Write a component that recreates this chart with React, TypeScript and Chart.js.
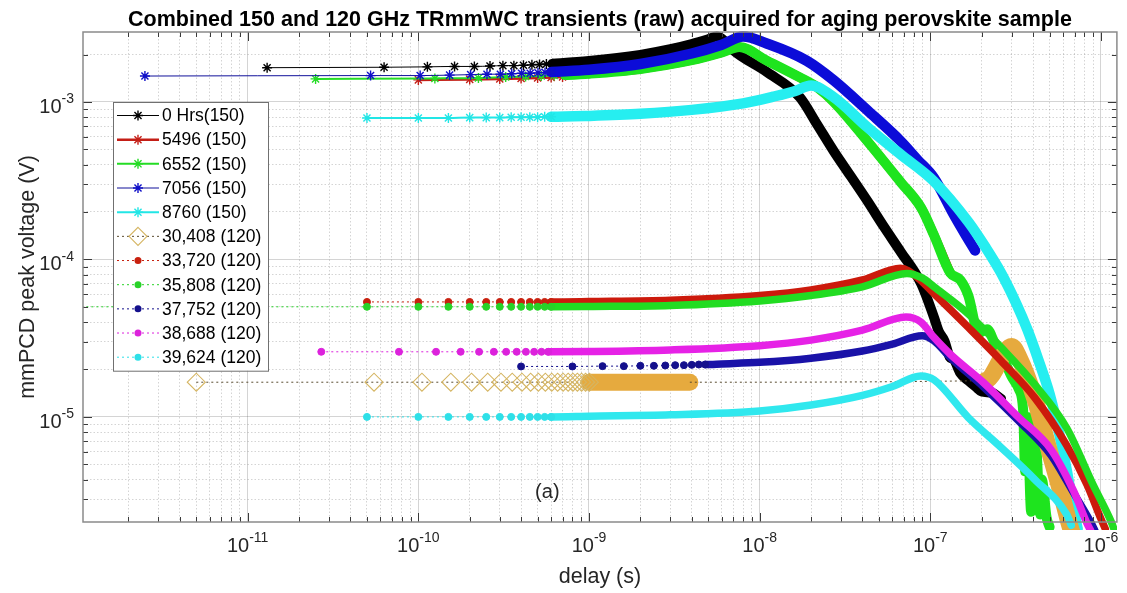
import React, { useEffect, useRef } from 'react';
import { Chart, registerables } from 'chart.js';

Chart.register(...registerables);

const FONT = '"Liberation Sans", Arial, Helvetica, sans-serif';

// ---------- text ----------
const TITLE = 'Combined 150 and 120 GHz TRmmWC transients (raw) acquired for aging perovskite sample';
const X_TITLE = 'delay (s)';
const Y_TITLE = 'mmPCD peak voltage (V)';
const PANEL_TAG = '(a)';
const PANEL_TAG_AT = [5.7e-10, 3.3e-6];
const LABELS = [
  '0 Hrs(150)', '5496 (150)', '6552 (150)', '7056 (150)', '8760 (150)',
  '30,408 (120)', '33,720 (120)', '35,808 (120)', '37,752 (120)', '38,688 (120)', '39,624 (120)',
];

// ---------- axes ----------
const X_MIN = 1.084e-12;
const X_MAX = 1.24e-6;
const Y_MIN = 2.15e-6;
const Y_MAX = 2.78e-3;
const X_TICK_EXP = [-11, -10, -9, -8, -7, -6];
const Y_TICK_EXP = [-5, -4, -3];

// ---------- data (delay in s, peak voltage in V) ----------
// 0 Hrs (150)
const T_0HRS = [1.3e-11, 6.3e-11, 1.13e-10, 1.63e-10, 2.13e-10, 2.63e-10, 3.13e-10, 3.63e-10, 4.13e-10, 4.63e-10, 5.13e-10, 5.63e-10, 6.13e-10,
  1e-9, 2e-9, 3e-9, 4e-9, 5e-9, 5.6e-9, 6.2e-9, 7.0e-9,
  1.1e-8, 1.72e-8, 2.17e-8, 2.72e-8, 3.42e-8, 4.3e-8, 5.35e-8, 6.7e-8, 8.85e-8,
  1.05e-7, 1.12e-7, 1.21e-7, 1.3e-7, 1.38e-7, 1.5e-7, 1.67e-7, 1.85e-7, 2.0e-7, 2.3e-7, 2.6e-7];
const V_0HRS = [1.65e-3, 1.66e-3, 1.67e-3, 1.68e-3, 1.68e-3, 1.69e-3, 1.70e-3, 1.70e-3, 1.71e-3, 1.72e-3, 1.73e-3, 1.74e-3, 1.75e-3,
  1.82e-3, 1.99e-3, 2.16e-3, 2.33e-3, 2.5e-3, 2.6e-3, 2.45e-3, 2.13e-3,
  1.55e-3, 1.07e-3, 7.2e-4, 4.86e-4, 3.37e-4, 2.33e-4, 1.61e-4, 1.12e-4, 7.0e-5,
  4.3e-5, 3.5e-5, 3.04e-5, 2.4e-5, 2.3e-5, 1.9e-5, 1.7e-5, 1.55e-5, 1.45e-5, 1.42e-5, 1.3e-5];

// 5496 (150)
const T_5496 = [1.0e-10, 2.0e-10, 3.0e-10, 4.0e-10, 5.0e-10, 6.0e-10, 7.0e-10,
  1e-9, 2e-9, 4e-9, 6e-9, 7.6e-9,
  1.1e-8, 1.72e-8, 2.17e-8, 2.72e-8, 4.3e-8, 6.7e-8, 8.85e-8, 1.05e-7, 1.31e-7];
const V_5496 = [1.38e-3, 1.39e-3, 1.40e-3, 1.41e-3, 1.42e-3, 1.43e-3, 1.44e-3,
  1.51e-3, 1.62e-3, 1.84e-3, 2.06e-3, 2.23e-3,
  1.83e-3, 1.43e-3, 1.24e-3, 1.0e-3, 5.6e-4, 3.1e-4, 2.12e-4, 1.43e-4, 8.2e-5];

// 6552 (150)
const T_6552 = [2.5e-11, 1.25e-10, 2.25e-10, 3.25e-10, 4.25e-10, 5.25e-10, 6.25e-10, 7.25e-10,
  1e-9, 2e-9, 4e-9, 6e-9, 7.6e-9,
  1.1e-8, 1.72e-8, 2.17e-8, 2.72e-8, 4.3e-8, 6.7e-8, 8.85e-8,
  1.05e-7, 1.31e-7, 1.5e-7, 1.67e-7, 1.92e-7, 2.15e-7, 2.4e-7, 2.7e-7, 3.0e-7, 3.3e-7,
  3.5e-7, 3.6e-7, 3.7e-7, 3.9e-7, 4.0e-7, 4.2e-7, 4.4e-7, 4.5e-7, 4.8e-7, 5.0e-7];
const V_6552 = [1.40e-3, 1.41e-3, 1.42e-3, 1.44e-3, 1.45e-3, 1.46e-3, 1.47e-3, 1.48e-3,
  1.51e-3, 1.62e-3, 1.84e-3, 2.06e-3, 2.23e-3,
  1.83e-3, 1.43e-3, 1.24e-3, 1.0e-3, 5.6e-4, 3.1e-4, 2.12e-4,
  1.43e-4, 8.2e-5, 7.4e-5, 5.9e-5, 3.4e-5, 3.6e-5, 2.9e-5, 2.3e-5, 1.8e-5, 1.5e-5,
  1.1e-5, 4.5e-6, 1.0e-5, 2.5e-6, 9e-6, 6e-6, 2.4e-6, 4e-6, 2.3e-6, 2.0e-6];

// 7056 (150)
const T_7056 = [2.5e-12, 5.25e-11, 1.025e-10, 1.525e-10, 2.025e-10, 2.525e-10, 3.025e-10, 3.525e-10, 4.025e-10, 4.525e-10, 5.025e-10, 5.525e-10, 6.025e-10,
  1e-9, 2e-9, 4e-9, 6e-9, 8e-9,
  1.1e-8, 1.88e-8, 2.72e-8, 4.3e-8, 6.7e-8, 8.4e-8,
  1.05e-7, 1.38e-7, 1.6e-7, 1.83e-7];
const V_7056 = [1.46e-3, 1.47e-3, 1.47e-3, 1.48e-3, 1.49e-3, 1.50e-3, 1.50e-3, 1.51e-3, 1.52e-3, 1.52e-3, 1.53e-3, 1.54e-3, 1.55e-3,
  1.60e-3, 1.74e-3, 2.03e-3, 2.31e-3, 2.6e-3,
  2.35e-3, 1.83e-3, 1.37e-3, 8.8e-4, 5.64e-4, 4.3e-4,
  3.29e-4, 1.91e-4, 1.45e-4, 1.14e-4];

// 8760 (150)
const T_8760 = [5e-11, 1e-10, 1.5e-10, 2e-10, 2.5e-10, 3e-10, 3.5e-10, 4e-10, 4.5e-10, 5e-10, 5.5e-10, 6e-10,
  1e-9, 2e-9, 4e-9, 8e-9, 1.2e-8, 1.6e-8, 2e-8,
  2.72e-8, 4.3e-8, 6.7e-8, 1.05e-7, 1.67e-7,
  2.1e-7, 2.6e-7, 3.2e-7, 3.7e-7, 4.3e-7, 5.0e-7, 5.6e-7, 6.3e-7, 6.9e-7, 7.3e-7];
const V_8760 = [7.9e-4, 7.9e-4, 7.9e-4, 7.95e-4, 7.95e-4, 7.95e-4, 8.0e-4, 8.0e-4, 8.0e-4, 8.0e-4, 8.05e-4, 8.05e-4,
  8.15e-4, 8.4e-4, 8.9e-4, 9.8e-4, 1.08e-3, 1.17e-3, 1.27e-3,
  1.07e-3, 6.87e-4, 4.64e-4, 3.13e-4, 1.73e-4,
  1.2e-4, 8.2e-5, 5.2e-5, 3.6e-5, 2.3e-5, 1.4e-5, 8.5e-6, 4.6e-6, 2.6e-6, 1.95e-6];

// 30,408 (120)
const T_30408 = [5e-12, 5.5e-11, 1.05e-10, 1.55e-10, 2.05e-10, 2.55e-10, 3.05e-10, 3.55e-10, 4.05e-10, 4.55e-10, 5.05e-10,
  5.55e-10, 6.05e-10, 6.55e-10, 7.05e-10, 7.55e-10, 8.05e-10, 8.55e-10, 9.05e-10, 9.55e-10, 1.005e-9,
  2e-9, 3.9e-9,
  2.1e-7, 3.0e-7, 3.3e-7, 4.1e-7, 4.9e-7, 5.8e-7, 6.7e-7, 7.0e-7];
const V_30408 = [1.66e-5, 1.66e-5, 1.66e-5, 1.66e-5, 1.66e-5, 1.66e-5, 1.66e-5, 1.66e-5, 1.66e-5, 1.66e-5, 1.66e-5,
  1.66e-5, 1.66e-5, 1.66e-5, 1.66e-5, 1.66e-5, 1.66e-5, 1.66e-5, 1.66e-5, 1.66e-5, 1.66e-5,
  1.66e-5, 1.66e-5,
  1.7e-5, 2.8e-5, 2.4e-5, 1.3e-5, 6.5e-6, 3.4e-6, 1.9e-6, 1.7e-6];

// 33,720 (120)
const T_33720 = [5e-11, 1e-10, 1.5e-10, 2e-10, 2.5e-10, 3e-10, 3.5e-10, 4e-10, 4.5e-10, 5e-10, 5.5e-10, 6e-10,
  1e-9, 3e-9, 1e-8, 2e-8, 4e-8, 6.7e-8,
  8.5e-8, 1.05e-7, 1.67e-7, 2.6e-7, 4.1e-7, 6.3e-7, 8.3e-7, 1.0e-6, 1.06e-6];
const V_33720 = [5.37e-5, 5.37e-5, 5.37e-5, 5.37e-5, 5.37e-5, 5.37e-5, 5.37e-5, 5.37e-5, 5.37e-5, 5.37e-5, 5.37e-5, 5.37e-5,
  5.4e-5, 5.5e-5, 5.9e-5, 6.4e-5, 7.4e-5, 8.8e-5,
  7.6e-5, 6.07e-5, 3.7e-5, 2.27e-5, 1.32e-5, 6.6e-6, 3.7e-6, 2.25e-6, 1.95e-6];

// 35,808 (120)
const T_35808 = [1e-13, 5e-11, 1e-10, 1.5e-10, 2e-10, 2.5e-10, 3e-10, 3.5e-10, 4e-10, 4.5e-10, 5e-10, 5.5e-10, 6e-10,
  1e-9, 3e-9, 1e-8, 2e-8, 4e-8, 7.3e-8,
  9e-8, 1.05e-7, 1.67e-7, 2.6e-7, 4.1e-7, 6.3e-7, 9.0e-7, 1.15e-6, 1.2e-6];
const V_35808 = [5.0e-5, 5.0e-5, 5.0e-5, 5.0e-5, 5.0e-5, 5.0e-5, 5.0e-5, 5.0e-5, 5.0e-5, 5.0e-5, 5.0e-5, 5.0e-5, 5.0e-5,
  5.02e-5, 5.1e-5, 5.45e-5, 5.9e-5, 6.7e-5, 8.15e-5,
  7.6e-5, 6.7e-5, 4.5e-5, 2.76e-5, 1.6e-5, 8.5e-6, 3.7e-6, 2.15e-6, 1.9e-6];

// 37,752 (120)
const T_37752 = [4e-10, 8e-10, 1.2e-9, 1.6e-9, 2.0e-9, 2.4e-9, 2.8e-9, 3.2e-9, 3.6e-9, 4.0e-9, 4.4e-9, 4.8e-9,
  6e-9, 1e-8, 2e-8, 4e-8, 6e-8, 8.95e-8,
  1.05e-7, 1.31e-7, 2.05e-7, 3.27e-7, 5.1e-7, 6.9e-7, 8.8e-7, 9.2e-7];
const V_37752 = [2.09e-5, 2.09e-5, 2.10e-5, 2.10e-5, 2.11e-5, 2.11e-5, 2.12e-5, 2.13e-5, 2.13e-5, 2.14e-5, 2.15e-5, 2.15e-5,
  2.17e-5, 2.22e-5, 2.36e-5, 2.62e-5, 2.9e-5, 3.28e-5,
  3.05e-5, 2.38e-5, 1.55e-5, 9.5e-6, 5.7e-6, 3.3e-6, 2.1e-6, 1.9e-6];

// 38,688 (120)
const T_38688 = [2.7e-11, 7.7e-11, 1.27e-10, 1.77e-10, 2.27e-10, 2.77e-10, 3.27e-10, 3.77e-10, 4.27e-10, 4.77e-10, 5.27e-10, 5.77e-10,
  1e-9, 3e-9, 1e-8, 2e-8, 4e-8, 7.2e-8,
  8.8e-8, 1.05e-7, 1.31e-7, 2.05e-7, 3.27e-7, 5.1e-7, 6.9e-7, 8.3e-7, 8.7e-7];
const V_38688 = [2.59e-5, 2.59e-5, 2.59e-5, 2.59e-5, 2.59e-5, 2.59e-5, 2.59e-5, 2.59e-5, 2.59e-5, 2.59e-5, 2.59e-5, 2.59e-5,
  2.6e-5, 2.66e-5, 2.83e-5, 3.07e-5, 3.55e-5, 4.3e-5,
  4.0e-5, 3.2e-5, 2.5e-5, 1.65e-5, 1.0e-5, 6.2e-6, 3.4e-6, 2.1e-6, 1.9e-6];

// 39,624 (120)
const T_39624 = [5e-11, 1e-10, 1.5e-10, 2e-10, 2.5e-10, 3e-10, 3.5e-10, 4e-10, 4.5e-10, 5e-10, 5.5e-10, 6e-10,
  1e-9, 3e-9, 1e-8, 2e-8, 4e-8, 6e-8, 8.8e-8,
  1.05e-7, 1.67e-7, 2.6e-7, 4.1e-7, 6.3e-7, 6.7e-7];
const V_39624 = [1.0e-5, 1.0e-5, 1.0e-5, 1.0e-5, 1.0e-5, 1.0e-5, 1.0e-5, 1.0e-5, 1.0e-5, 1.0e-5, 1.0e-5, 1.0e-5,
  1.01e-5, 1.03e-5, 1.09e-5, 1.19e-5, 1.37e-5, 1.56e-5, 1.82e-5,
  1.72e-5, 9.9e-6, 6.4e-6, 4.0e-6, 2.4e-6, 2.05e-6];

// ---------- styles ----------
type Marker = 'star' | 'circle' | 'rectRot';
interface Series {
  label: string; t: number[]; v: number[];
  lineColor: string; lineWidth: number; dash: number[];
  marker: Marker; r: number; markerColor: string; filled: boolean; markerLw: number;
  markUntil: number;
  bandColor: string; bandWidth: number; bands: number[][];
}

const SERIES: Series[] = [
  { label: LABELS[0], t: T_0HRS, v: V_0HRS, lineColor: '#000000', lineWidth: 1, dash: [], marker: 'star', r: 5, markerColor: '#000000', filled: false, markerLw: 1.4, markUntil: 6.13e-10, bandColor: '#000000', bandWidth: 10, bands: [[6.13e-10, 1]] },
  { label: LABELS[1], t: T_5496, v: V_5496, lineColor: '#c41e16', lineWidth: 2.5, dash: [], marker: 'star', r: 5, markerColor: '#c41e16', filled: false, markerLw: 1.4, markUntil: 7.0e-10, bandColor: '#c41e16', bandWidth: 9, bands: [[1e-9, 1]] },
  { label: LABELS[2], t: T_6552, v: V_6552, lineColor: '#24dc24', lineWidth: 2, dash: [], marker: 'star', r: 5, markerColor: '#24dc24', filled: false, markerLw: 1.4, markUntil: 7.25e-10, bandColor: '#1ee41e', bandWidth: 10, bands: [[7.25e-10, 1]] },
  { label: LABELS[3], t: T_7056, v: V_7056, lineColor: '#10109a', lineWidth: 1, dash: [], marker: 'star', r: 5, markerColor: '#1010c8', filled: false, markerLw: 1.4, markUntil: 6.025e-10, bandColor: '#0c0cd8', bandWidth: 10.5, bands: [[6.025e-10, 1]] },
  { label: LABELS[4], t: T_8760, v: V_8760, lineColor: '#22e6e6', lineWidth: 2, dash: [], marker: 'star', r: 5, markerColor: '#22e6e6', filled: false, markerLw: 1.4, markUntil: 6e-10, bandColor: '#26eef0', bandWidth: 10.5, bands: [[6e-10, 1]] },
  { label: LABELS[5], t: T_30408, v: V_30408, lineColor: '#5a4c30', lineWidth: 1, dash: [2, 3], marker: 'rectRot', r: 9, markerColor: '#d5b562', filled: false, markerLw: 1.1, markUntil: 1.005e-9, bandColor: '#e6aa3e', bandWidth: 17, bands: [[1.005e-9, 3.9e-9], [2.1e-7, 1]] },
  { label: LABELS[6], t: T_33720, v: V_33720, lineColor: '#c8200e', lineWidth: 1, dash: [2, 3], marker: 'circle', r: 3.5, markerColor: '#c8200e', filled: true, markerLw: 1, markUntil: 6e-10, bandColor: '#cc1a0c', bandWidth: 7.5, bands: [[6e-10, 1]] },
  { label: LABELS[7], t: T_35808, v: V_35808, lineColor: '#28d228', lineWidth: 1, dash: [2, 3], marker: 'circle', r: 3.5, markerColor: '#28d228', filled: true, markerLw: 1, markUntil: 6e-10, bandColor: '#22dc22', bandWidth: 7.5, bands: [[6e-10, 1]] },
  { label: LABELS[8], t: T_37752, v: V_37752, lineColor: '#14108c', lineWidth: 1, dash: [2, 3], marker: 'circle', r: 3.5, markerColor: '#14108c', filled: true, markerLw: 1, markUntil: 4.8e-9, bandColor: '#1a12a8', bandWidth: 7.5, bands: [[4.8e-9, 1]] },
  { label: LABELS[9], t: T_38688, v: V_38688, lineColor: '#dc22dc', lineWidth: 1, dash: [2, 3], marker: 'circle', r: 3.5, markerColor: '#dc22dc', filled: true, markerLw: 1, markUntil: 5.77e-10, bandColor: '#e622e6', bandWidth: 7.5, bands: [[5.77e-10, 1]] },
  { label: LABELS[10], t: T_39624, v: V_39624, lineColor: '#2ee0e8', lineWidth: 1, dash: [2, 3], marker: 'circle', r: 3.5, markerColor: '#2ee0e8', filled: true, markerLw: 1, markUntil: 6e-10, bandColor: '#30e8ee', bandWidth: 7.5, bands: [[6e-10, 1]] },
];

// ---------- helpers ----------
function isPow10(v: number) {
  const l = Math.log10(v);
  return Math.abs(l - Math.round(l)) < 1e-6;
}

function decadeTicks(min: number, max: number): number[] {
  const out: number[] = [];
  for (let e = Math.floor(Math.log10(min)); e <= Math.ceil(Math.log10(max)); e++) {
    for (let m = 1; m <= 9; m++) {
      const v = Number((m * Math.pow(10, e)).toPrecision(6));
      if (v >= min * 0.9999 && v <= max * 1.0001) out.push(v);
    }
  }
  return out;
}

const X_TICKS = decadeTicks(X_MIN, X_MAX);
const Y_TICKS = decadeTicks(Y_MIN, Y_MAX);

function drawMarker(ctx: CanvasRenderingContext2D, s: Series, x: number, y: number) {
  ctx.save();
  ctx.setLineDash([]);
  ctx.strokeStyle = s.markerColor;
  ctx.fillStyle = s.markerColor;
  ctx.lineWidth = s.markerLw;
  ctx.beginPath();
  if (s.marker === 'star') {
    for (let k = 0; k < 4; k++) {
      const a = (k * Math.PI) / 4;
      ctx.moveTo(x - s.r * Math.sin(a), y - s.r * Math.cos(a));
      ctx.lineTo(x + s.r * Math.sin(a), y + s.r * Math.cos(a));
    }
    ctx.stroke();
  } else if (s.marker === 'circle') {
    ctx.arc(x, y, s.r, 0, Math.PI * 2);
    ctx.fill();
  } else {
    ctx.moveTo(x, y - s.r);
    ctx.lineTo(x + s.r, y);
    ctx.lineTo(x, y + s.r);
    ctx.lineTo(x - s.r, y);
    ctx.closePath();
    if (s.filled) ctx.fill();
    ctx.stroke();
  }
  ctx.restore();
}

function drawPow(ctx: CanvasRenderingContext2D, e: number, x: number, y: number, anchor: 'center' | 'right', baseGap: number) {
  const base = '10';
  const ex = String(e);
  ctx.font = `20px ${FONT}`;
  const w1 = ctx.measureText(base).width;
  ctx.font = `14px ${FONT}`;
  const w2 = ctx.measureText(ex).width;
  const x0 = anchor === 'center' ? x - (w1 + w2) / 2 : x - (w1 + w2);
  ctx.font = `20px ${FONT}`;
  ctx.fillText(base, x0, y);
  ctx.font = `14px ${FONT}`;
  ctx.fillText(ex, x0 + w1, y - baseGap);
}

const axesPlugin = {
  id: 'matlabAxes',
  afterDraw(chart: any) {
    const { ctx, chartArea: a } = chart;
    const xs = chart.scales.x;
    const ys = chart.scales.y;
    ctx.save();
    ctx.setLineDash([]);
    // inward tick marks on all four sides
    ctx.strokeStyle = '#3a3a3a';
    ctx.lineWidth = 1;
    ctx.beginPath();
    for (const t of xs.ticks) {
      const px = Math.round(xs.getPixelForValue(t.value)) + 0.5;
      const len = isPow10(t.value) ? 9 : 5;
      ctx.moveTo(px, a.bottom); ctx.lineTo(px, a.bottom - len);
      ctx.moveTo(px, a.top); ctx.lineTo(px, a.top + len);
    }
    for (const t of ys.ticks) {
      const py = Math.round(ys.getPixelForValue(t.value)) + 0.5;
      const len = isPow10(t.value) ? 9 : 5;
      ctx.moveTo(a.left, py); ctx.lineTo(a.left + len, py);
      ctx.moveTo(a.right, py); ctx.lineTo(a.right - len, py);
    }
    ctx.stroke();
    // box
    ctx.strokeStyle = '#8a8a8a';
    ctx.lineWidth = 1.5;
    ctx.strokeRect(a.left, a.top, a.right - a.left, a.bottom - a.top);

    // tick labels
    ctx.fillStyle = '#262626';
    ctx.textAlign = 'left';
    ctx.textBaseline = 'alphabetic';
    for (const e of X_TICK_EXP) {
      const px = xs.getPixelForValue(Math.pow(10, e));
      drawPow(ctx, e, px, a.bottom + 30, 'center', 10);
    }
    for (const e of Y_TICK_EXP) {
      const py = ys.getPixelForValue(Math.pow(10, e));
      drawPow(ctx, e, a.left - 9, py + 11, 'right', 9.5);
    }

    // panel tag
    ctx.font = `20px ${FONT}`;
    ctx.textAlign = 'center';
    ctx.textBaseline = 'middle';
    ctx.fillStyle = '#262626';
    ctx.fillText(PANEL_TAG, xs.getPixelForValue(PANEL_TAG_AT[0]), ys.getPixelForValue(PANEL_TAG_AT[1]));

    // legend
    const lx0 = 113, ly0 = 102, lw = 155, rowH = 24.17;
    const lh = rowH * (SERIES.length - 1) + 27;
    ctx.fillStyle = '#ffffff';
    ctx.fillRect(lx0, ly0, lw, lh);
    ctx.strokeStyle = '#707070';
    ctx.lineWidth = 1;
    ctx.strokeRect(lx0 + 0.5, ly0 + 0.5, lw, lh);
    ctx.font = `17.5px ${FONT}`;
    ctx.textAlign = 'left';
    ctx.textBaseline = 'middle';
    SERIES.forEach((s, i) => {
      const y = ly0 + 13.5 + i * rowH;
      ctx.save();
      ctx.strokeStyle = s.lineColor;
      ctx.lineWidth = s.lineWidth;
      ctx.setLineDash(s.dash);
      ctx.beginPath();
      ctx.moveTo(lx0 + 4, y);
      ctx.lineTo(lx0 + 46, y);
      ctx.stroke();
      ctx.restore();
      drawMarker(ctx, s, lx0 + 25, y);
      ctx.fillStyle = '#000000';
      ctx.fillText(s.label, lx0 + 49, y + 1);
    });
    ctx.restore();
  },
};

function makeDatasets() {
  return SERIES.map((s, i) => {
    const pts = s.t.map((x, k) => ({ x, y: s.v[k] }));
    const markerUntil = s.markUntil * 1.0001;
    const inBand = (c: any) => {
      const x0 = pts[c.p0DataIndex].x;
      const x1 = pts[c.p1DataIndex].x;
      return s.bands.some(([lo, hi]) => x0 >= lo * 0.9999 && x1 <= hi * 1.0001);
    };
    return {
      label: s.label,
      data: pts,
      borderColor: s.lineColor,
      borderWidth: s.lineWidth,
      borderDash: s.dash,
      pointStyle: s.marker,
      pointRadius: (c: any) => (c.raw && c.raw.x <= markerUntil ? s.r : 0),
      pointHoverRadius: 0,
      pointBorderColor: s.markerColor,
      pointBackgroundColor: s.filled ? s.markerColor : 'rgba(0,0,0,0)',
      pointBorderWidth: s.markerLw,
      cubicInterpolationMode: 'monotone',
      fill: false,
      order: 100 - i,
      clip: { left: 0, top: 3, right: 0, bottom: 8 },
      segment: {
        borderWidth: (c: any) => (inBand(c) ? s.bandWidth : s.lineWidth),
        borderColor: (c: any) => (inBand(c) ? s.bandColor : s.lineColor),
        borderDash: (c: any) => (inBand(c) ? [] : s.dash),
        borderCapStyle: (c: any) => (inBand(c) ? 'round' : 'butt'),
        borderJoinStyle: (c: any) => (inBand(c) ? 'round' : 'miter'),
      },
    };
  });
}

const gridColor = (c: any) => {
  const v = c.tick ? c.tick.value : 1;
  return isPow10(v) ? 'rgba(40,40,40,0.2)' : 'rgba(40,40,40,0.2)';
};
const gridDash = (c: any) => {
  const v = c.tick ? c.tick.value : 1;
  return isPow10(v) ? [] : [1.5, 2];
};

export default function App() {
  const ref = useRef<HTMLCanvasElement | null>(null);
  useEffect(() => {
    if (!ref.current) return;
    Chart.defaults.font.family = FONT;
    const chart = new Chart(ref.current, {
      type: 'line',
      data: { datasets: makeDatasets() as any },
      options: {
        animation: false,
        responsive: true,
        maintainAspectRatio: false,
        events: [],
        layout: { padding: { left: 0, right: 7, top: 0, bottom: 0 } },
        scales: {
          x: {
            type: 'logarithmic',
            position: 'bottom',
            min: X_MIN,
            max: X_MAX,
            afterBuildTicks: (sc: any) => { sc.ticks = X_TICKS.map((v) => ({ value: v })); },
            afterFit: (sc: any) => { sc.height = 71; },
            ticks: { display: false },
            grid: { color: gridColor, drawTicks: false, lineWidth: 1 },
            border: { display: false, dash: gridDash },
            title: { display: true, text: X_TITLE, color: '#262626', font: { size: 21.5, family: FONT }, padding: { top: 0, bottom: 3 } },
          },
          y: {
            type: 'logarithmic',
            position: 'left',
            min: Y_MIN,
            max: Y_MAX,
            afterBuildTicks: (sc: any) => { sc.ticks = Y_TICKS.map((v) => ({ value: v })); },
            afterFit: (sc: any) => { sc.width = 83; },
            ticks: { display: false },
            grid: { color: gridColor, drawTicks: false, lineWidth: 1 },
            border: { display: false, dash: gridDash },
            title: { display: true, text: Y_TITLE, color: '#262626', font: { size: 21.5, family: FONT }, padding: { top: 15, bottom: 0 } },
          },
        },
        plugins: {
          legend: { display: false },
          tooltip: { enabled: false },
          title: {
            display: true,
            text: TITLE,
            fullSize: false,
            color: '#000000',
            font: { size: 21.5, weight: 'bold', family: FONT, lineHeight: 1 },
            padding: { top: 9.5, bottom: 1 },
          },
        },
      } as any,
      plugins: [axesPlugin],
    });
    return () => chart.destroy();
  }, []);
  return (
    <div style={{ position: 'absolute', left: 0, top: 0, width: 1127, height: 593, background: '#ffffff' }}>
      <canvas ref={ref} />
    </div>
  );
}
